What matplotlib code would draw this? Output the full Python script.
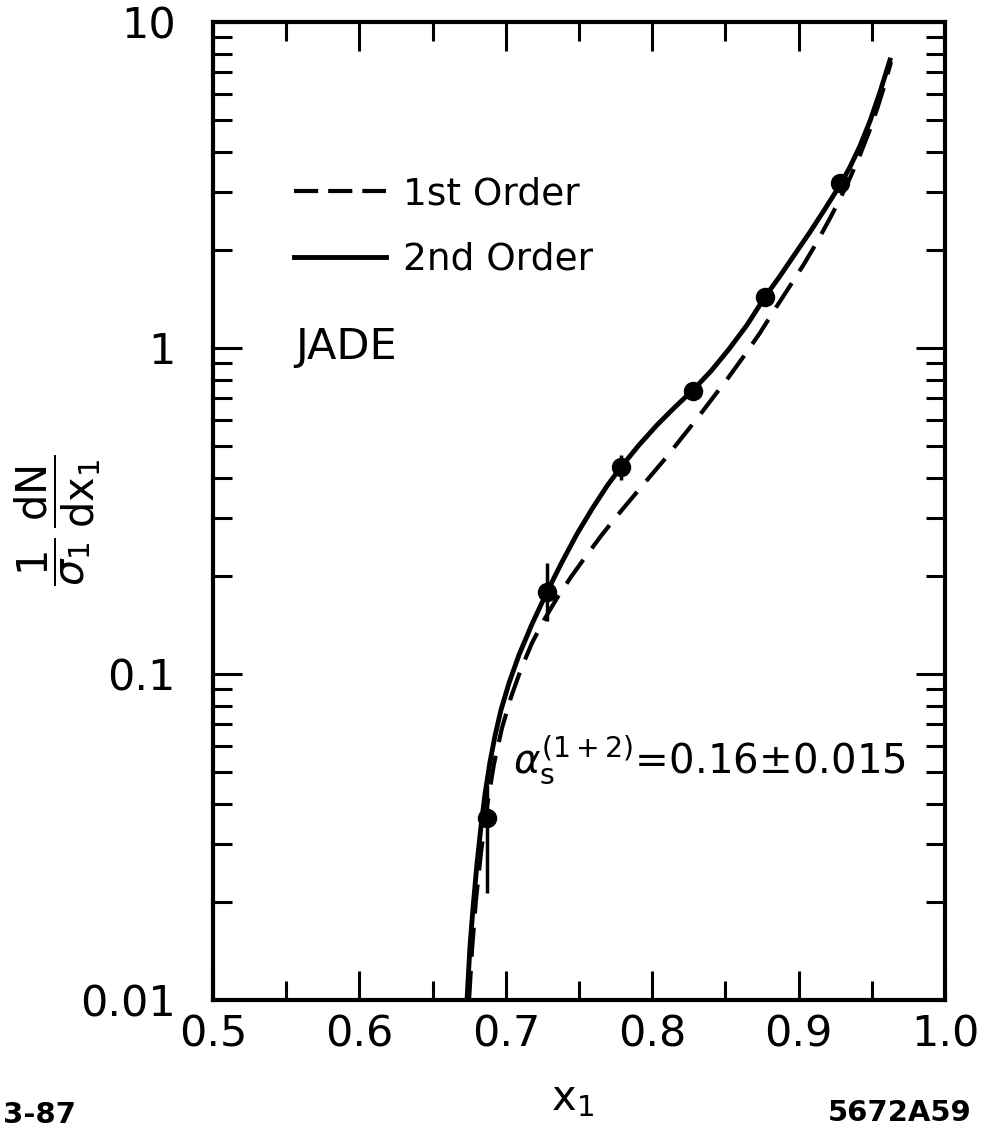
import numpy as np
import matplotlib
matplotlib.use("Agg")
import matplotlib.pyplot as plt
from matplotlib.lines import Line2D
from matplotlib.ticker import FixedLocator, FixedFormatter, LogLocator, NullFormatter

plt.rcParams['font.family'] = ['DejaVu Sans']
plt.rcParams['mathtext.fontset'] = 'dejavusans'

# JADE data points and their error bars
x_data = [0.687, 0.728, 0.779, 0.828, 0.877, 0.928]
y_data = [0.0361, 0.179, 0.431, 0.738, 1.43, 3.21]
y_lo = [0.0213, 0.145, 0.395, 0.705, 1.38, 3.10]
y_hi = [0.0457, 0.219, 0.470, 0.775, 1.48, 3.32]

# 2nd order QCD curve
x_second = [0.6735, 0.6755, 0.6776, 0.6803, 0.6831, 0.6858, 0.6892, 0.6926, 0.6967,
            0.7022, 0.7090, 0.7179, 0.7281, 0.7384, 0.7486, 0.7589, 0.7691, 0.7787,
            0.7910, 0.8033, 0.8156, 0.8279, 0.8402, 0.8525, 0.8648, 0.8770, 0.8873,
            0.8975, 0.9078, 0.9180, 0.9283, 0.9351, 0.9419, 0.9488, 0.9556, 0.9624]
y_second = [0.0100, 0.01454, 0.01915, 0.02614, 0.03418, 0.04283, 0.05372, 0.06452, 0.07756,
            0.09384, 0.1144, 0.1423, 0.1784, 0.2206, 0.2688, 0.3207, 0.3773, 0.4315,
            0.5040, 0.5804, 0.6592, 0.7434, 0.8500, 0.9929, 1.177, 1.434, 1.663,
            1.942, 2.269, 2.669, 3.162, 3.591, 4.165, 4.970, 6.099, 7.643]

# 1st order curve
x_first = [0.6749, 0.6769, 0.6796, 0.6831, 0.6872, 0.6919, 0.6974, 0.7036, 0.7104,
           0.7179, 0.7261, 0.7350, 0.7445, 0.7548, 0.7650, 0.7753, 0.7862, 0.7971,
           0.8081, 0.8190, 0.8299, 0.8408, 0.8518, 0.8627, 0.8736, 0.8839, 0.8941,
           0.9037, 0.9126, 0.9208, 0.9283, 0.9351, 0.9419, 0.9481, 0.9536, 0.9583, 0.9631]
y_first = [0.0100, 0.01423, 0.02026, 0.02844, 0.03937, 0.05295, 0.06830, 0.08500, 0.1036,
           0.1245, 0.1464, 0.1710, 0.1984, 0.2301, 0.2650, 0.3031, 0.3467, 0.3965,
           0.4533, 0.5222, 0.6013, 0.6975, 0.8091, 0.9451, 1.112, 1.317, 1.550,
           1.810, 2.114, 2.470, 2.865, 3.323, 3.908, 4.599, 5.410, 6.318, 7.537]

x_ticks = [0.5, 0.6, 0.7, 0.8, 0.9, 1.0]
x_ticklabels = ["0.5", "0.6", "0.7", "0.8", "0.9", "1.0"]
x_minor = [0.55, 0.65, 0.75, 0.85, 0.95]
y_ticks = [0.01, 0.1, 1, 10]
y_ticklabels = ["0.01", "0.1", "1", "10"]

fig = plt.figure(figsize=(9.84, 11.31), dpi=100)
ax = fig.add_axes([213 / 984, 1 - 1000 / 1131, (945 - 213) / 984, (1000 - 22) / 1131])

ax.plot(x_first, y_first, color='black', lw=3.0, dashes=(7, 3.4))
ax.plot(x_second, y_second, color='black', lw=3.5)

yerr = [np.array(y_data) - np.array(y_lo), np.array(y_hi) - np.array(y_data)]
ax.errorbar(x_data, y_data, yerr=yerr, fmt='o', color='black', ms=13,
            elinewidth=2.5, capsize=0, zorder=5)

ax.set_yscale('log')
ax.set_xlim(0.5, 1.0)
ax.set_ylim(0.01, 10)

ax.xaxis.set_major_locator(FixedLocator(x_ticks))
ax.xaxis.set_major_formatter(FixedFormatter(x_ticklabels))
ax.xaxis.set_minor_locator(FixedLocator(x_minor))
ax.yaxis.set_major_locator(FixedLocator(y_ticks))
ax.yaxis.set_major_formatter(FixedFormatter(y_ticklabels))
ax.yaxis.set_minor_locator(LogLocator(base=10, subs=np.arange(2, 10)))
ax.yaxis.set_minor_formatter(NullFormatter())

ax.tick_params(which='both', direction='in', top=True, right=True, width=2.2, color='black')
ax.tick_params(which='major', length=21)
ax.tick_params(which='minor', length=14)
ax.tick_params(axis='x', which='major', labelsize=31, pad=10)
ax.tick_params(axis='y', which='major', labelsize=31, pad=27)
for s in ax.spines.values():
    s.set_linewidth(3)

# legend keys: three short dashes for the 1st order line
handles = [Line2D([], [], color='black', lw=3.0, dashes=(5.8, 2.4)),
           Line2D([], [], color='black', lw=3.5)]
ax.legend(handles, ['1st Order', '2nd Order'], loc='upper left',
          bbox_to_anchor=(0.111, 0.842), frameon=False,
          fontsize=27, handlelength=2.45, handletextpad=0.45, labelspacing=0.78,
          borderaxespad=0, borderpad=0)

ax.text(0.112, 0.668, "JADE", transform=ax.transAxes, fontsize=31, va='center', ha='left')
ax.text(0.41, 0.245, r"$\alpha_\mathrm{s}^{(1+2)}$=0.16$\pm$0.015", transform=ax.transAxes,
        fontsize=29, va='center', ha='left')

fig.text(58 / 984, 1 - 520 / 1131,
         r"$\dfrac{1}{\sigma_1}\,\dfrac{\mathrm{dN}}{\mathrm{dx}_1}$",
         rotation=90, fontsize=30, ha='center', va='center')
fig.text(572 / 984, 1 - 1098 / 1131, r"$\mathrm{x}_1$", fontsize=30, ha='center', va='center')
fig.text(3 / 984, 1 - 1115 / 1131, "3-87", fontsize=21, fontweight='bold', ha='left', va='center')
fig.text(972 / 984, 1 - 1113 / 1131, "5672A59", fontsize=21, fontweight='bold', ha='right', va='center')

fig.savefig("out.png", dpi=100)
